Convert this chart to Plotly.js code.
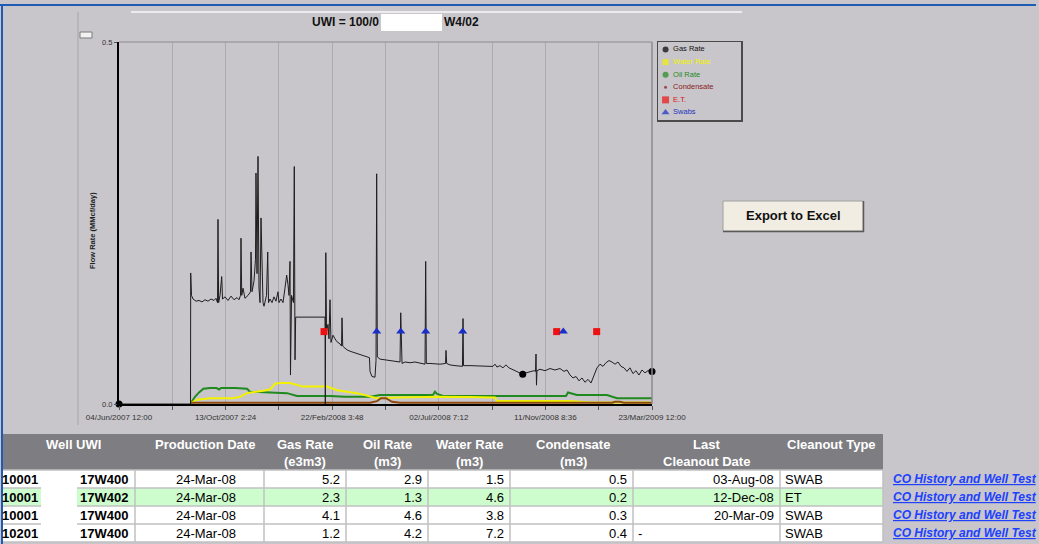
<!DOCTYPE html>
<html><head><meta charset="utf-8">
<script src="https://cdn.plot.ly/plotly-3.0.1.min.js"></script>
<style>html,body{margin:0;padding:0;background:#c8c6ca;overflow:hidden}#chart{width:1039px;height:544px}</style>
</head><body><div id="chart"></div>
<script>
// ---------------- data (days counted from 04/Jun/2007 00:00) ----------------
const startDate = Date.UTC(2007, 5, 4);
const xRange = ['2007-06-04 00:00', '2009-03-23 00:00'];

const gasDay = [0, 88.3, 88.5, 89.5, 91.4, 95.1, 98.8, 102.5, 106.2, 109.9,
  113.6, 117.3, 119.7, 121.6, 122.2, 123.0, 124.7, 126.8, 127.8, 130.9,
  134.6, 138.3, 142.0, 145.7, 148.1, 150.0, 150.6, 151.5, 153.1, 155.5,
  159.3, 162.3, 163.0, 164.2, 166.7, 168.5, 169.1, 170.4, 171.6, 172.8,
  174.1, 175.3, 176.5, 177.8, 179.0, 180.2, 182.1, 183.6, 184.6, 186.4,
  188.9, 191.3, 193.8, 196.3, 197.5, 200.0, 202.5, 204.9, 207.0, 208.6,
  209.9, 211.1, 211.7, 213.0, 215.4, 216.4, 217.3, 218.1, 254.3, 254.7,
  255.3, 256.2, 258.0, 259.2, 260.5, 261.7, 264.2, 266.7, 269.1, 272.8,
  274.7, 275.3, 276.2, 279.0, 282.7, 287.6, 292.6, 297.5, 302.5, 307.4,
  309.2, 309.9, 312.3, 316.0, 317.3, 318.1, 318.9, 322.2, 328.4, 334.6,
  340.7, 346.9, 347.8, 348.5, 349.4, 353.1, 359.2, 365.4, 371.6, 377.8,
  378.6, 379.4, 383.9, 390.1, 396.3, 403.1, 403.7, 404.5, 408.6, 414.8,
  421.0, 424.0, 424.7, 425.3, 433.3, 445.7, 458.0, 461.7, 464.2, 466.6,
  470.3, 474.0, 477.7, 481.4, 485.2, 490.1, 495.0, 498.4, 502.4, 507.4,
  512.3, 514.2, 514.8, 515.4, 516.0, 519.7, 525.9, 532.1, 538.2, 544.4,
  549.4, 553.1, 556.8, 560.5, 564.2, 567.9, 571.6, 575.3, 579.0, 582.7,
  586.4, 590.1, 593.8, 597.5, 601.2, 604.9, 608.6, 612.3, 616.0, 619.7,
  623.4, 627.1, 630.8, 634.5, 638.2, 641.9, 645.6, 649.3, 653.0, 658.0];
const gasRate = [0, 0, 0.181, 0.15, 0.145, 0.142, 0.143, 0.141, 0.144, 0.142,
  0.145, 0.143, 0.146, 0.14, 0.255, 0.14, 0.15, 0.176, 0.145, 0.148,
  0.143, 0.149, 0.144, 0.147, 0.144, 0.15, 0.229, 0.15, 0.16, 0.146,
  0.15, 0.155, 0.21, 0.155, 0.17, 0.2, 0.319, 0.18, 0.342, 0.16,
  0.14, 0.257, 0.2, 0.14, 0.135, 0.14, 0.15, 0.21, 0.14, 0.145,
  0.14, 0.148, 0.142, 0.155, 0.14, 0.145, 0.14, 0.16, 0.178, 0.165,
  0.15, 0.197, 0.04, 0.15, 0.14, 0.328, 0.061, 0.12, 0.12, 0,
  0.209, 0.1, 0.11, 0.09, 0.144, 0.085, 0.095, 0.09, 0.086, 0.083,
  0.08, 0.119, 0.08, 0.077, 0.074, 0.072, 0.07, 0.068, 0.066, 0.065,
  0.064, 0.045, 0.038, 0.037, 0.06, 0.318, 0.065, 0.062, 0.061, 0.06,
  0.06, 0.058, 0.126, 0.06, 0.056, 0.058, 0.057, 0.058, 0.056, 0.055,
  0.197, 0.056, 0.056, 0.055, 0.055, 0.056, 0.074, 0.056, 0.054, 0.053,
  0.052, 0.052, 0.118, 0.053, 0.053, 0.052, 0.052, 0.052, 0.055, 0.051,
  0.053, 0.05, 0.054, 0.05, 0.048, 0.046, 0.043, 0.041, 0.043, 0.045,
  0.046, 0.045, 0.069, 0.026, 0.046, 0.048, 0.046, 0.049, 0.047, 0.049,
  0.045, 0.047, 0.04, 0.036, 0.038, 0.032, 0.036, 0.03, 0.034, 0.029,
  0.04, 0.05, 0.055, 0.052, 0.057, 0.06, 0.058, 0.055, 0.058, 0.052,
  0.05, 0.045, 0.05, 0.042, 0.046, 0.04, 0.047, 0.043, 0.046, 0.045];

const oilDay = [88.5, 91.4, 93.8, 98.8, 104.1, 112.3, 120.6, 123.5, 125.9, 143.2,
  158.0, 161.7, 174.1, 186.4, 207.4, 219.7, 260.5, 279.0, 309.9, 316.0,
  322.2, 346.9, 371.6, 387.6, 390.1, 392.6, 400.0, 433.3, 461.7, 464.2,
  519.7, 551.8, 554.3, 559.2, 565.4, 593.8, 602.4, 614.8, 658];
const oilRate = [0.001, 0.006, 0.010, 0.016, 0.021, 0.022, 0.022, 0.020, 0.022, 0.022,
  0.021, 0.017, 0.016, 0.016, 0.015, 0.011, 0.011, 0.010, 0.010, 0.011,
  0.0125, 0.0125, 0.0125, 0.0125, 0.017, 0.014, 0.011, 0.011, 0.010, 0.011,
  0.011, 0.011, 0.016, 0.014, 0.0125, 0.0125, 0.0125, 0.008, 0.008];

const waterDay = [89.7, 96.3, 112.3, 140.7, 149.4, 157.6, 176.5, 186.4, 192.6, 198.8,
  211.1, 227.1, 256.8, 269.1, 293.8, 318.5, 346.9, 392.6, 433.3, 464.2,
  466.6, 556.8, 581.5, 658];
const waterRate = [0.002, 0.006, 0.008, 0.008, 0.010, 0.015, 0.018, 0.020, 0.028, 0.029,
  0.029, 0.024, 0.024, 0.019, 0.015, 0.008, 0.009, 0.010, 0.0095, 0.009,
  0.004, 0.004, 0.002, 0.002];

const condDay = [88.5, 309.9, 318.5, 323.4, 329.6, 337.0, 346.9, 608.6, 612.3, 618.5, 623.4, 658];
const condRate = [0.0018, 0.0018, 0.004, 0.008, 0.008, 0.003, 0.0018, 0.0018, 0.003, 0.003, 0.0018, 0.0018];

const gasDotDay = [0, 498.4, 658];
const gasDotRate = [0, 0.041, 0.045];
const etDay = [253.1, 540.3, 589.7];
const etRate = [0.1, 0.1, 0.1];
const swabDay = [318.1, 347.8, 378.6, 424.3, 548.5];
const swabRate = [0.1, 0.1, 0.1, 0.1, 0.1];

const tickDates = ['2007-06-04 00:00', '2007-08-08 19:12', '2007-10-13 14:24', '2007-12-18 09:36',
  '2008-02-22 04:48', '2008-04-28 00:00', '2008-07-02 19:12', '2008-09-06 14:24',
  '2008-11-11 09:36', '2009-01-16 04:48', '2009-03-23 00:00'];
const tickLabels = ['04/Jun/2007 12:00', '', '13/Oct/2007 2:24', '', '22/Feb/2008 3:48', '',
  '02/Jul/2008 7:12', '', '11/Nov/2008 8:36', '', '23/Mar/2009 12:00'];
const yTickVals = [0, 0.5];
const yTickText = ['0.0', '0.5'];

const legendNames = ['Gas Rate', 'Water Rate', 'Oil Rate', 'Condensate', 'E.T.', 'Swabs'];
const legendColors = ['#000000', '#f2f200', '#1f8a1f', '#8b1a1a', '#ee1111', '#1a2fc8'];
const legendTextColors = ['#111111', '#f2f200', '#1f8a1f', '#8b1a1a', '#dd1111', '#2233bb'];
const legendSymbols = ['circle', 'square', 'circle', 'circle', 'square', 'triangle-up'];
const legendSizes = [6, 6, 6, 3, 7, 7];

// table
const uwiPrefix = ['10001', '10001', '10001', '10201'];
const uwiSuffix = ['17W400', '17W402', '17W400', '17W400'];
const productionDate = ['24-Mar-08', '24-Mar-08', '24-Mar-08', '24-Mar-08'];
const gasRateE3m3 = [5.2, 2.3, 4.1, 1.2];
const oilRateM3 = [2.9, 1.3, 4.6, 4.2];
const waterRateM3 = [1.5, 4.6, 3.8, 7.2];
const condensateM3 = [0.5, 0.2, 0.3, 0.4];
const lastCleanoutDate = ['03-Aug-08', '12-Dec-08', '20-Mar-09', '-'];
const cleanoutType = ['SWAB', 'ET', 'SWAB', 'SWAB'];
const linkLabel = 'CO History and Well Test';
const headerTop = ['Well UWI', 'Production Date', 'Gas Rate', 'Oil Rate', 'Water Rate', 'Condensate', 'Last', 'Cleanout Type'];
const headerBottom = ['', '', '(e3m3)', '(m3)', '(m3)', '(m3)', 'Cleanout Date', ''];

// ---------------- build ----------------
const W = 1039, H = 544;
const BG = '#c8c6ca';
const HDR = '#7e7d81';
const FONT = 'Arial, "Liberation Sans", sans-serif';
const px = x => x / W, py = y => 1 - y / H;
const toDate = d => new Date(startDate + d * 86400000).toISOString().slice(0, 19).replace('T', ' ');

const traces = [
  {type: 'scatter', mode: 'lines', x: oilDay.map(toDate), y: oilRate, line: {color: '#1f8a1f', width: 2}},
  {type: 'scatter', mode: 'lines', x: waterDay.map(toDate), y: waterRate, line: {color: '#f2f200', width: 2}},
  {type: 'scatter', mode: 'lines', x: condDay.map(toDate), y: condRate, line: {color: '#8c4a12', width: 2}},
  {type: 'scatter', mode: 'lines', x: gasDay.map(toDate), y: gasRate, line: {color: '#1e1e1e', width: 1}},
  {type: 'scatter', mode: 'markers', x: gasDotDay.map(toDate), y: gasDotRate, cliponaxis: false,
    marker: {color: '#000', size: 7, symbol: 'circle'}},
  {type: 'scatter', mode: 'markers', x: etDay.map(toDate), y: etRate, cliponaxis: false,
    marker: {color: '#ee1111', size: 7, symbol: 'square'}},
  {type: 'scatter', mode: 'markers', x: swabDay.map(toDate), y: swabRate, cliponaxis: false,
    marker: {color: '#1a2fc8', size: 8, symbol: 'triangle-up'}},
  // custom legend: symbols, then labels
  {type: 'scatter', mode: 'markers', xaxis: 'x2', yaxis: 'y2', cliponaxis: false,
    x: legendNames.map(() => 0), y: legendNames,
    marker: {color: legendColors, size: legendSizes, symbol: legendSymbols, line: {width: 0}}},
  {type: 'scatter', mode: 'text', xaxis: 'x2', yaxis: 'y2', cliponaxis: false,
    x: legendNames.map(() => 0.1), y: legendNames, text: legendNames, textposition: 'middle right',
    textfont: {size: 7.5, color: legendTextColors, family: FONT}}
];

const line = (x0, y0, x1, y1, color, width) => ({type: 'line', xref: 'paper', yref: 'paper',
  x0: px(x0), y0: py(y0), x1: px(x1), y1: py(y1), line: {color: color, width: width}});
const rect = (x0, y0, x1, y1, fill, lc, lw) => ({type: 'rect', xref: 'paper', yref: 'paper',
  x0: px(x0), y0: py(y0), x1: px(x1), y1: py(y1), fillcolor: fill, line: {color: lc, width: lw}});
const ann = (o) => Object.assign({xref: 'paper', yref: 'paper', showarrow: false, yanchor: 'middle'}, o);

const shapes = [
  line(0, 5, 1036, 5, '#1f5bb5', 2),
  line(131, 12, 742, 12, '#ececee', 2),
  line(78, 12, 78, 425, '#a6a4aa', 1),
  rect(80, 32, 92, 38, '#f2f2f2', '#7a7a7a', 1),
  rect(381, 14, 442, 31, '#ffffff', '#ffffff', 0),
  {type: 'line', xref: 'x domain', yref: 'y domain', x0: 0, x1: 1, y0: 1, y1: 1, line: {color: '#8c8a90', width: 1}},
  {type: 'line', xref: 'x domain', yref: 'y domain', x0: 1, x1: 1, y0: 0, y1: 1, line: {color: '#8c8a90', width: 1.5}},
  rect(723, 201, 863, 231, '#f1ede2', '#a0a0a0', 1),
  line(723, 231.5, 864, 231.5, '#5a5a5a', 1.5),
  line(863.5, 201, 863.5, 232, '#5a5a5a', 1.5)
];

const annotations = [
  ann({text: '<b>UWI = 100/0</b>', x: px(381), y: py(22), xanchor: 'right', font: {size: 12, color: '#111', family: FONT}}),
  ann({text: '<b>W4/02</b>', x: px(442), y: py(22), xanchor: 'left', font: {size: 12, color: '#111', family: FONT}}),
  ann({text: '<b>Flow Rate (MMcf/day)</b>', x: px(93), y: py(231), textangle: -90, xanchor: 'center',
    font: {size: 7.5, color: '#222', family: FONT}}),
  ann({text: '<b>Export to Excel</b>', x: px(793), y: py(216), xanchor: 'center', font: {size: 13, color: '#111', family: FONT}})
];

// ---- table layout (pixel geometry) ----
const tableLeft = 3, tableRight = 883;
const colEdges = [135, 264, 346, 428, 510, 633, 780];          // inner vertical separators
const headerTopY = 434, headerBottomY = 470, rowH = 18;
const headerX = [73, 205, 305, 387, 469, 573, 706, 831];
const rowFill = ['#ffffff', '#cdfccd', '#ffffff', '#ffffff'];
const cellFont = {size: 13, color: '#000', family: FONT};
const columns = [
  {vals: uwiPrefix, x: 40, anchor: 'right', bold: true},
  {vals: uwiSuffix, x: 130, anchor: 'right', bold: true},
  {vals: productionDate, x: 206, anchor: 'center'},
  {vals: gasRateE3m3, x: 342, anchor: 'right'},
  {vals: oilRateM3, x: 424, anchor: 'right'},
  {vals: waterRateM3, x: 506, anchor: 'right'},
  {vals: condensateM3, x: 629, anchor: 'right'},
  {vals: lastCleanoutDate, x: 776, anchor: 'right', altX: 636, altAnchor: 'left'},
  {vals: cleanoutType, x: 783, anchor: 'left'}
];

shapes.push(rect(tableLeft, headerTopY, tableRight, headerBottomY, HDR, HDR, 0));
const nRows = uwiPrefix.length;
for (let i = 0; i < nRows; i++) {
  const top = headerBottomY + i * rowH;
  shapes.push(rect(tableLeft, top, tableRight, top + rowH, rowFill[i], rowFill[i], 0));
}
const tableBottom = headerBottomY + nRows * rowH;
for (let i = 0; i <= nRows; i++) {
  const y = headerBottomY + i * rowH;
  shapes.push(line(tableLeft, y, tableRight, y, '#c0c0c2', 1.5));
}
colEdges.forEach(x => shapes.push(line(x, headerBottomY, x, tableBottom, '#c0c0c2', 1.5)));
shapes.push(line(tableRight, headerBottomY, tableRight, tableBottom, '#c0c0c2', 1.5));
shapes.push(rect(41, headerBottomY + 1, 77, tableBottom - 1, '#ffffff', '#ffffff', 0));  // redaction
shapes.push(line(2, 5, 2, 544, '#1f5bb5', 2));

headerTop.forEach((t, i) => {
  if (t) annotations.push(ann({text: '<b>' + t + '</b>', x: px(headerX[i]), y: py(444), xanchor: 'center',
    font: {size: 13, color: '#ffffff', family: FONT}}));
  if (headerBottom[i]) annotations.push(ann({text: '<b>' + headerBottom[i] + '</b>', x: px(headerX[i]), y: py(461),
    xanchor: 'center', font: {size: 13, color: '#ffffff', family: FONT}}));
});
columns.forEach(col => {
  col.vals.forEach((v, i) => {
    const yc = headerBottomY + i * rowH + rowH / 2;
    const isAlt = col.altX !== undefined && v === '-';
    annotations.push(ann({text: col.bold ? '<b>' + v + '</b>' : String(v),
      x: px(isAlt ? col.altX : col.x), y: py(yc), xanchor: isAlt ? col.altAnchor : col.anchor, font: cellFont}));
  });
});
uwiPrefix.forEach((_, i) => {
  const yc = headerBottomY + i * rowH + rowH / 2;
  annotations.push(ann({text: '<b><i><u>' + linkLabel + '</u></i></b>', x: px(891), y: py(yc), xanchor: 'left',
    font: {size: 12, color: '#2040ff', family: FONT}}));
});

const layout = {
  width: W, height: H, margin: {l: 0, r: 0, t: 0, b: 0}, autosize: false,
  paper_bgcolor: BG, plot_bgcolor: BG, showlegend: false, hovermode: false,
  font: {family: FONT},
  xaxis: {domain: [px(119), px(652)], type: 'date', range: xRange, tickmode: 'array',
    tickvals: tickDates, ticktext: tickLabels, showgrid: true, gridcolor: '#acaab0', gridwidth: 1,
    showline: true, linecolor: '#000', linewidth: 2, ticks: 'outside', ticklen: 4, tickcolor: '#555',
    tickfont: {size: 8, color: '#333', family: FONT}, zeroline: false, automargin: false, fixedrange: true},
  yaxis: {domain: [py(404), py(42)], range: [0, 0.5], tickmode: 'array', tickvals: yTickVals,
    ticktext: yTickText, showgrid: false, showline: true, linecolor: '#000', linewidth: 2,
    ticks: 'outside', ticklen: 3, tickcolor: '#555', tickfont: {size: 7.5, color: '#333', family: FONT},
    zeroline: false, automargin: false, fixedrange: true},
  xaxis2: {domain: [px(658), px(741)], anchor: 'y2', range: [-0.1, 1], showgrid: false, zeroline: false,
    showticklabels: false, ticks: '', showline: true, mirror: true, linecolor: '#4a4a4a', linewidth: 1.5,
    fixedrange: true},
  yaxis2: {domain: [py(120), py(42)], anchor: 'x2', type: 'category', range: [5.6, -0.6],
    showgrid: false, zeroline: false, showticklabels: false, ticks: '', showline: true, mirror: true,
    linecolor: '#4a4a4a', linewidth: 1.5, fixedrange: true},
  shapes: shapes,
  annotations: annotations
};

Plotly.newPlot('chart', traces, layout, {displayModeBar: false, staticPlot: true});
</script>
</body></html>
